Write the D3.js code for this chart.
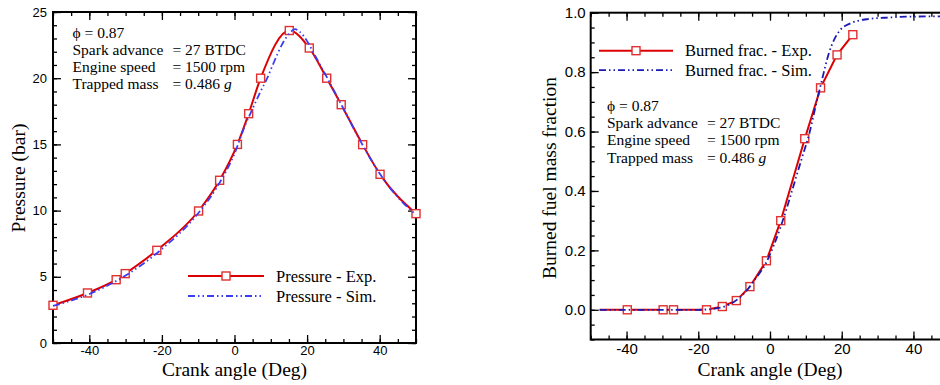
<!DOCTYPE html>
<html>
<head>
<meta charset="utf-8">
<script src="https://cdn.jsdelivr.net/npm/d3@7"></script>
<style>
    body { margin: 0; background: #fff; }
    .tick text { font-family: "Liberation Sans", Arial, sans-serif; fill: #000; }
    .serif { font-family: "Liberation Serif", "Times New Roman", serif; fill: #000; }
</style>
</head>
<body>
<div id="chart"></div>
<script>
// Pressure trace (left panel)
const pressureExpAngle = [-50, -40.5, -32.6, -30.1, -21.4, -9.9, -4.1, 0.8, 3.9, 7.2, 15.1, 20.6, 25.4, 29.4, 35.3, 40.1, 50];
const pressureExpValue = [2.85, 3.78, 4.78, 5.24, 7.0, 9.97, 12.29, 15.0, 17.32, 20.0, 23.6, 22.28, 20.0, 18.0, 14.98, 12.74, 9.77];
const pressureSimAngle = [-50, -40, -30, -20, -10, -5, 0, 3, 5, 7, 9, 11, 13, 15, 16.7, 18, 20, 22, 25, 30, 35, 40, 45, 50];
const pressureSimValue = [2.8, 3.7, 5.1, 7.1, 9.8, 11.7, 14.3, 16.5, 17.7, 18.9, 20.0, 21.3, 22.5, 23.35, 23.7, 23.5, 22.8, 21.8, 20.3, 17.7, 15.1, 12.8, 11.0, 9.7];

// Burned fuel mass fraction (right panel)
const burnedExpAngle = [-47.5, -39.8, -29.8, -26.9, -17.7, -13.3, -9.4, -5.6, -1.0, 3.0, 9.7, 14.1, 18.7, 23.1];
const burnedExpValue = [0, 0, 0, 0, 0, 0.011, 0.031, 0.078, 0.165, 0.30, 0.576, 0.747, 0.858, 0.926];
const burnedSimAngle = [-47.5, -20, -16, -13, -10, -7, -4, -1, 1, 3, 5, 7, 9, 11, 12.7, 14.5, 16.4, 18, 19.6, 22.4, 27, 33.5, 40, 50];
const burnedSimValue = [0, 0, 0.003, 0.01, 0.027, 0.058, 0.105, 0.16, 0.215, 0.28, 0.355, 0.435, 0.515, 0.595, 0.684, 0.774, 0.863, 0.912, 0.942, 0.964, 0.978, 0.984, 0.987, 0.988];

const angleTicks = [-40, -20, 0, 20, 40];
const pressureTicks = [0, 5, 10, 15, 20, 25];
const fractionTicks = [0, 0.2, 0.4, 0.6, 0.8, 1.0];

const conditionLabels = ['Spark advance', 'Engine speed', 'Trapped mass'];
const conditionValues = ['= 27 BTDC', '= 1500 rpm', '= 0.486 '];

const colors = { exp: '#dd0000', marker: '#e03030', simLeft: '#3c3cf5', simRight: '#1a1ab4' };
const simDash = '7,3,1.5,3,1.5,3';

const svg = d3.select('#chart').append('svg')
    .attr('width', 940)
    .attr('height', 385);

function zip(xs, ys) {
    return xs.map((x, i) => ({ x: x, y: ys[i] }));
}

function drawPanel(cfg) {
    const x = d3.scaleLinear().domain([-50, 50]).range(cfg.xRange);
    const y = d3.scaleLinear().domain(cfg.yDomain).range(cfg.yRange);
    const g = svg.append('g');
    const [x0, x1] = cfg.xRange;
    const [yb, yt] = cfg.yRange;

    // minor ticks first, then the majors with labels
    const minorX = d3.range(-50, 50.01, 5);
    const minorY = d3.range(cfg.yDomain[0], cfg.yDomain[1] + 1e-6, cfg.yMinor);

    const addAxis = (axis, transform) => {
        const a = g.append('g').attr('transform', transform).call(axis);
        a.select('.domain').remove();
        a.selectAll('line').attr('stroke', '#000').attr('stroke-width', 1.3);
        a.selectAll('text').style('font-size', cfg.tickFont + 'px');
        return a;
    };

    addAxis(d3.axisBottom(x).tickValues(minorX).tickSize(-4).tickFormat(''), `translate(0,${yb})`);
    addAxis(d3.axisTop(x).tickValues(minorX).tickSize(-4).tickFormat(''), `translate(0,${yt})`);
    addAxis(d3.axisLeft(y).tickValues(minorY).tickSize(-4).tickFormat(''), `translate(${x0},0)`);
    addAxis(d3.axisRight(y).tickValues(minorY).tickSize(-4).tickFormat(''), `translate(${x1},0)`);

    addAxis(d3.axisBottom(x).tickValues(angleTicks).tickSize(-8).tickPadding(cfg.xPad).tickFormat(d => String(d)), `translate(0,${yb})`);
    addAxis(d3.axisTop(x).tickValues(angleTicks).tickSize(-8).tickFormat(''), `translate(0,${yt})`);
    addAxis(d3.axisLeft(y).tickValues(cfg.yTicks).tickSize(-8).tickPadding(cfg.yPad).tickFormat(cfg.yFormat), `translate(${x0},0)`);
    addAxis(d3.axisRight(y).tickValues(cfg.yTicks).tickSize(-8).tickFormat(''), `translate(${x1},0)`);

    // frame
    g.append('rect')
        .attr('x', x0).attr('y', yt)
        .attr('width', x1 - x0).attr('height', yb - yt)
        .attr('fill', 'none').attr('stroke', '#000').attr('stroke-width', 2);

    // experiment line, markers, then simulation on top
    const expData = zip(cfg.expAngle, cfg.expValue);
    const simData = zip(cfg.simAngle, cfg.simValue);
    const line = d3.line().x(d => x(d.x)).y(d => y(d.y));

    g.append('path')
        .datum(expData)
        .attr('d', line.curve(cfg.expCurve))
        .attr('fill', 'none').attr('stroke', colors.exp).attr('stroke-width', 2);

    g.selectAll('rect.mk')
        .data(expData.slice(cfg.markerStart))
        .join('rect')
        .attr('class', 'mk')
        .attr('x', d => x(d.x) - 4).attr('y', d => y(d.y) - 4)
        .attr('width', 8).attr('height', 8)
        .attr('fill', '#fff').attr('stroke', colors.marker).attr('stroke-width', 1.4);

    g.append('path')
        .datum(simData)
        .attr('d', line.curve(d3.curveMonotoneX))
        .attr('fill', 'none').attr('stroke', cfg.simColor).attr('stroke-width', 1.8)
        .attr('stroke-dasharray', simDash);

    // axis titles
    g.append('text').attr('class', 'serif')
        .attr('x', x(0)).attr('y', 376)
        .attr('text-anchor', 'middle').style('font-size', '19.5px')
        .text('Crank angle (Deg)');
    g.append('text').attr('class', 'serif')
        .attr('transform', `translate(${cfg.yTitleX},178) rotate(-90)`)
        .attr('text-anchor', 'middle').style('font-size', '19.5px')
        .text(cfg.yTitle);

    // legend
    const lg = cfg.legend;
    const rows = [
        { label: cfg.legendLabels[0], color: colors.exp, dash: null, marker: true },
        { label: cfg.legendLabels[1], color: cfg.simColor, dash: simDash, marker: false }
    ];
    rows.forEach((r, i) => {
        const ly = lg.y + i * lg.dy;
        g.append('line')
            .attr('x1', lg.x0).attr('x2', lg.x1).attr('y1', ly).attr('y2', ly)
            .attr('stroke', r.color).attr('stroke-width', r.marker ? 2 : 1.8)
            .attr('stroke-dasharray', r.dash);
        if (r.marker) {
            g.append('rect')
                .attr('x', (lg.x0 + lg.x1) / 2 - 4).attr('y', ly - 4)
                .attr('width', 8).attr('height', 8)
                .attr('fill', '#fff').attr('stroke', colors.marker).attr('stroke-width', 1.4);
        }
        g.append('text').attr('class', 'serif')
            .attr('x', lg.tx).attr('y', ly + 5.5)
            .style('font-size', '16.5px')
            .text(r.label);
    });

    // operating conditions, one text block with a column for the "=" values
    const nt = cfg.note;
    const lineGap = 17.2;
    const note = g.append('text').attr('class', 'serif')
        .attr('x', nt.x).attr('y', nt.y)
        .style('font-size', '15.5px');
    note.append('tspan').attr('x', nt.x).attr('y', nt.y).text('\u03D5 = 0.87');
    conditionLabels.forEach((lab, i) => {
        const ty = nt.y + (i + 1) * lineGap;
        note.append('tspan').attr('x', nt.x).attr('y', ty).text(lab);
        note.append('tspan').attr('x', nt.x + 100).attr('y', ty).text(conditionValues[i]);
        if (i === 2) note.append('tspan').style('font-style', 'italic').text('g');
    });
}

drawPanel({
    xRange: [53, 416],
    yDomain: [0, 25],
    yRange: [343, 12],
    yTicks: pressureTicks,
    yMinor: 1,
    yFormat: d => String(d),
    tickFont: 13,
    xPad: 3,
    yPad: 6,
    yTitle: 'Pressure (bar)',
    yTitleX: 25,
    expAngle: pressureExpAngle,
    expValue: pressureExpValue,
    expCurve: d3.curveMonotoneX,
    markerStart: 0,
    simAngle: pressureSimAngle,
    simValue: pressureSimValue,
    simColor: colors.simLeft,
    legendLabels: ['Pressure - Exp.', 'Pressure - Sim.'],
    legend: { x0: 188, x1: 264, y: 276, dy: 20, tx: 276 },
    note: { x: 72.5, y: 37.5 }
});

drawPanel({
    xRange: [590.7, 949.3],
    yDomain: [-0.1, 1.0],
    yRange: [339.5, 12.7],
    yTicks: fractionTicks,
    yMinor: 0.05,
    yFormat: d => d.toFixed(1),
    tickFont: 15,
    xPad: 3.5,
    yPad: 5,
    yTitle: 'Burned fuel mass fraction',
    yTitleX: 556,
    expAngle: burnedExpAngle,
    expValue: burnedExpValue,
    expCurve: d3.curveLinear,
    markerStart: 1,
    simAngle: burnedSimAngle,
    simValue: burnedSimValue,
    simColor: colors.simRight,
    legendLabels: ['Burned frac. - Exp.', 'Burned frac. - Sim.'],
    legend: { x0: 599, x1: 673, y: 50.7, dy: 19.5, tx: 685 },
    note: { x: 607, y: 111 }
});
</script>
</body>
</html>
